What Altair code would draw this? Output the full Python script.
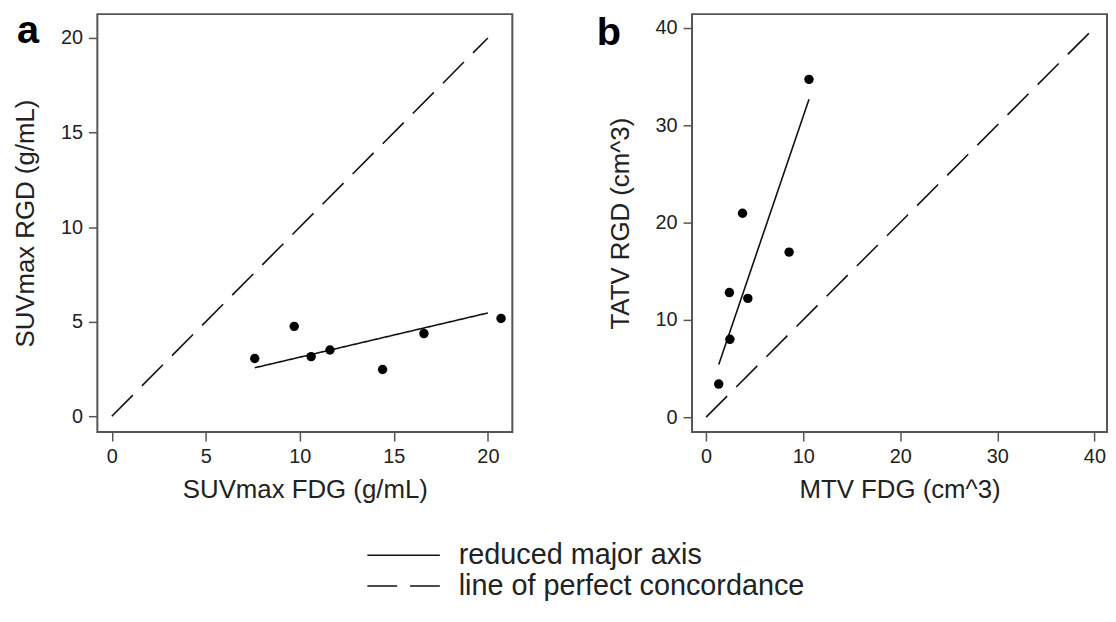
import altair as alt
import pandas as pd

# ---------------- data ----------------
# panel a : SUVmax
a_fdg = [7.6, 9.7, 10.6, 11.6, 14.4, 16.6, 20.7]
a_rgd = [3.05, 4.75, 3.15, 3.5, 2.47, 4.37, 5.17]
a_rma_x = [7.6, 20.0]
a_rma_y = [2.56, 5.46]
a_conc = [0, 20]
a_ticks = [0, 5, 10, 15, 20]

# panel b : volumes
b_mtv = [1.3, 2.4, 2.45, 3.75, 4.3, 8.55, 10.6]
b_tatv = [3.4, 12.8, 8.0, 20.95, 12.2, 16.95, 34.7]
b_rma_x = [1.3, 10.6]
b_rma_y = [5.4, 32.65]
b_conc = [0, 40]
b_ticks = [0, 10, 20, 30, 40]

legend_labels = ["reduced major axis", "line of perfect concordance"]

FONT = "Liberation Sans"
TXT = "#222222"
GRAY = "#555555"


def lines_df(rx, ry, conc):
    rows = []
    for i, (x, y) in enumerate(zip(rx, ry)):
        rows.append({"x": x, "y": y, "type": legend_labels[0], "o": i})
    for i, v in enumerate(conc):
        rows.append({"x": v, "y": v, "type": legend_labels[1], "o": i})
    return pd.DataFrame(rows)


def panel(px, py, lines, xdom, ydom, ticks, xtitle, ytitle, letter, lx, ly, with_legend):
    xs = alt.Scale(domain=xdom, nice=False, zero=False)
    ys = alt.Scale(domain=ydom, nice=False, zero=False)
    common = dict(values=ticks, grid=False, domain=False, tickColor=GRAY,
                  tickWidth=1.5, tickSize=9, labelFont=FONT, labelFontSize=20,
                  labelColor=TXT, titleFont=FONT, titleFontSize=26,
                  titleFontWeight="normal", titleColor=TXT, format="d")
    xax = alt.Axis(title=xtitle, labelPadding=6, titlePadding=10, **common)
    yax = alt.Axis(title=ytitle, labelPadding=6, titlePadding=22, labelAngle=0, **common)

    if with_legend:
        leg = alt.Legend(title=None, orient="none", legendX=271, legendY=530,
                         symbolType="stroke", symbolSize=5329,
                         symbolStrokeWidth=1.6, symbolStrokeColor="#111111",
                         labelFont=FONT, labelFontSize=29, labelColor=TXT,
                         labelOffset=18, rowPadding=1, padding=0,
                         clipHeight=30, labelLimit=700)
    else:
        leg = None

    line_layer = alt.Chart(lines).mark_line(color="#111111", strokeWidth=1.6, clip=True).encode(
        x=alt.X("x:Q", scale=xs, axis=xax),
        y=alt.Y("y:Q", scale=ys, axis=yax),
        order="o:Q",
        strokeDash=alt.StrokeDash(
            "type:N",
            scale=alt.Scale(domain=legend_labels, range=[[1, 0], [30, 13]]),
            legend=leg,
        ),
    )
    pts = alt.Chart(pd.DataFrame({"x": px, "y": py})).mark_circle(
        color="#000000", opacity=1, size=90).encode(
        x=alt.X("x:Q", scale=xs),
        y=alt.Y("y:Q", scale=ys),
    )
    lab = alt.Chart(pd.DataFrame({"t": [letter]})).mark_text(
        font=FONT, fontSize=40, fontWeight="bold", color="#000000",
        align="left", baseline="alphabetic").encode(
        x=alt.value(lx), y=alt.value(ly), text="t:N")
    return alt.layer(line_layer, pts, lab).properties(width=418, height=421)


pa = panel(a_fdg, a_rgd, lines_df(a_rma_x, a_rma_y, a_conc), [-0.77, 21.3],
           [-0.84, 21.26], a_ticks, "SUVmax FDG (g/mL)", "SUVmax RGD (g/mL)",
           "a", -81, 29, True)
pb = panel(b_mtv, b_tatv, lines_df(b_rma_x, b_rma_y, b_conc), [-1.45, 41.3],
           [-1.53, 41.4], b_ticks, "MTV FDG (cm^3)", "TATV RGD (cm^3)",
           "b", -96, 31, False)

chart = alt.hconcat(pa, pb, spacing=83).resolve_scale(
    x="independent", y="independent"
).properties(
    padding={"left": 3, "top": 0, "right": 0, "bottom": 0},
    background="white",
).configure_view(stroke=GRAY, strokeWidth=2)

chart.save("out.html", embed_options={"renderer": "svg", "actions": False})
